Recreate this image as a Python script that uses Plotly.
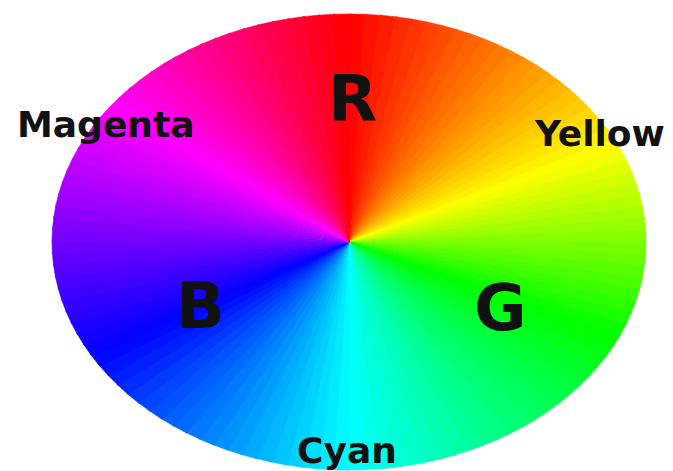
import colorsys
import numpy as np
import plotly.graph_objects as go

# Key hues of the wheel and where they meet the rim (parametric angle, clockwise from top)
hue_names = ["Red", "Yellow", "Green", "Cyan", "Blue", "Magenta", "Red"]
hue_deg = [0, 60, 120, 180, 240, 300, 360]
rim_angle_deg = [0, 65, 115, 180, 240, 307, 360]

big_labels = ["R", "G", "B"]
small_labels = ["Magenta", "Yellow", "Cyan"]

W, H = 673, 471
OFF = 8  # page body margin; axis ranges compensate so data units == window pixels
cx, cy, rx, ry = 349, 242, 297, 228
n_wedges = 120

fig = go.Figure()
edges = np.linspace(0, 360, n_wedges + 1)
for a0, a1 in zip(edges[:-1], edges[1:]):
    mid = (a0 + a1) / 2
    h = np.interp(mid, rim_angle_deg, hue_deg) % 360
    r, g, b = colorsys.hsv_to_rgb(h / 360, 1, 1)
    col = f"rgb({int(r*255)},{int(g*255)},{int(b*255)})"
    t = np.radians(np.linspace(a0, a1 + 0.4, 6))
    xs = [cx] + list(cx + rx * np.sin(t)) + [cx]
    ys = [cy] + list(cy - ry * np.cos(t)) + [cy]
    fig.add_trace(go.Scatter(x=xs, y=ys, mode="lines", fill="toself",
                             fillcolor=col, line=dict(color=col, width=0.6),
                             hoverinfo="skip", showlegend=False))

font_big = dict(family="DejaVu Sans", size=64, color="#111111")
font_small = dict(family="DejaVu Sans", size=36, color="#111111")
ann = [
    (big_labels[0], 352, 99, font_big),
    (big_labels[1], 500, 308, font_big),
    (big_labels[2], 200, 306, font_big),
    (small_labels[0], 105, 124, font_small),
    (small_labels[1], 599, 133, font_small),
    (small_labels[2], 347, 450, font_small),
]
for txt, x, y, f in ann:
    fig.add_annotation(x=x, y=y, text=f"<b>{txt}</b>", showarrow=False,
                       font=f, xanchor="center", yanchor="middle")

fig.update_layout(
    width=W, height=H, margin=dict(l=0, r=0, t=0, b=0),
    paper_bgcolor="white", plot_bgcolor="white",
    xaxis=dict(range=[OFF, W + OFF], visible=False, fixedrange=True),
    yaxis=dict(range=[H + OFF, OFF], visible=False, fixedrange=True),
)
fig.write_html("out.html", config={"displayModeBar": False})
